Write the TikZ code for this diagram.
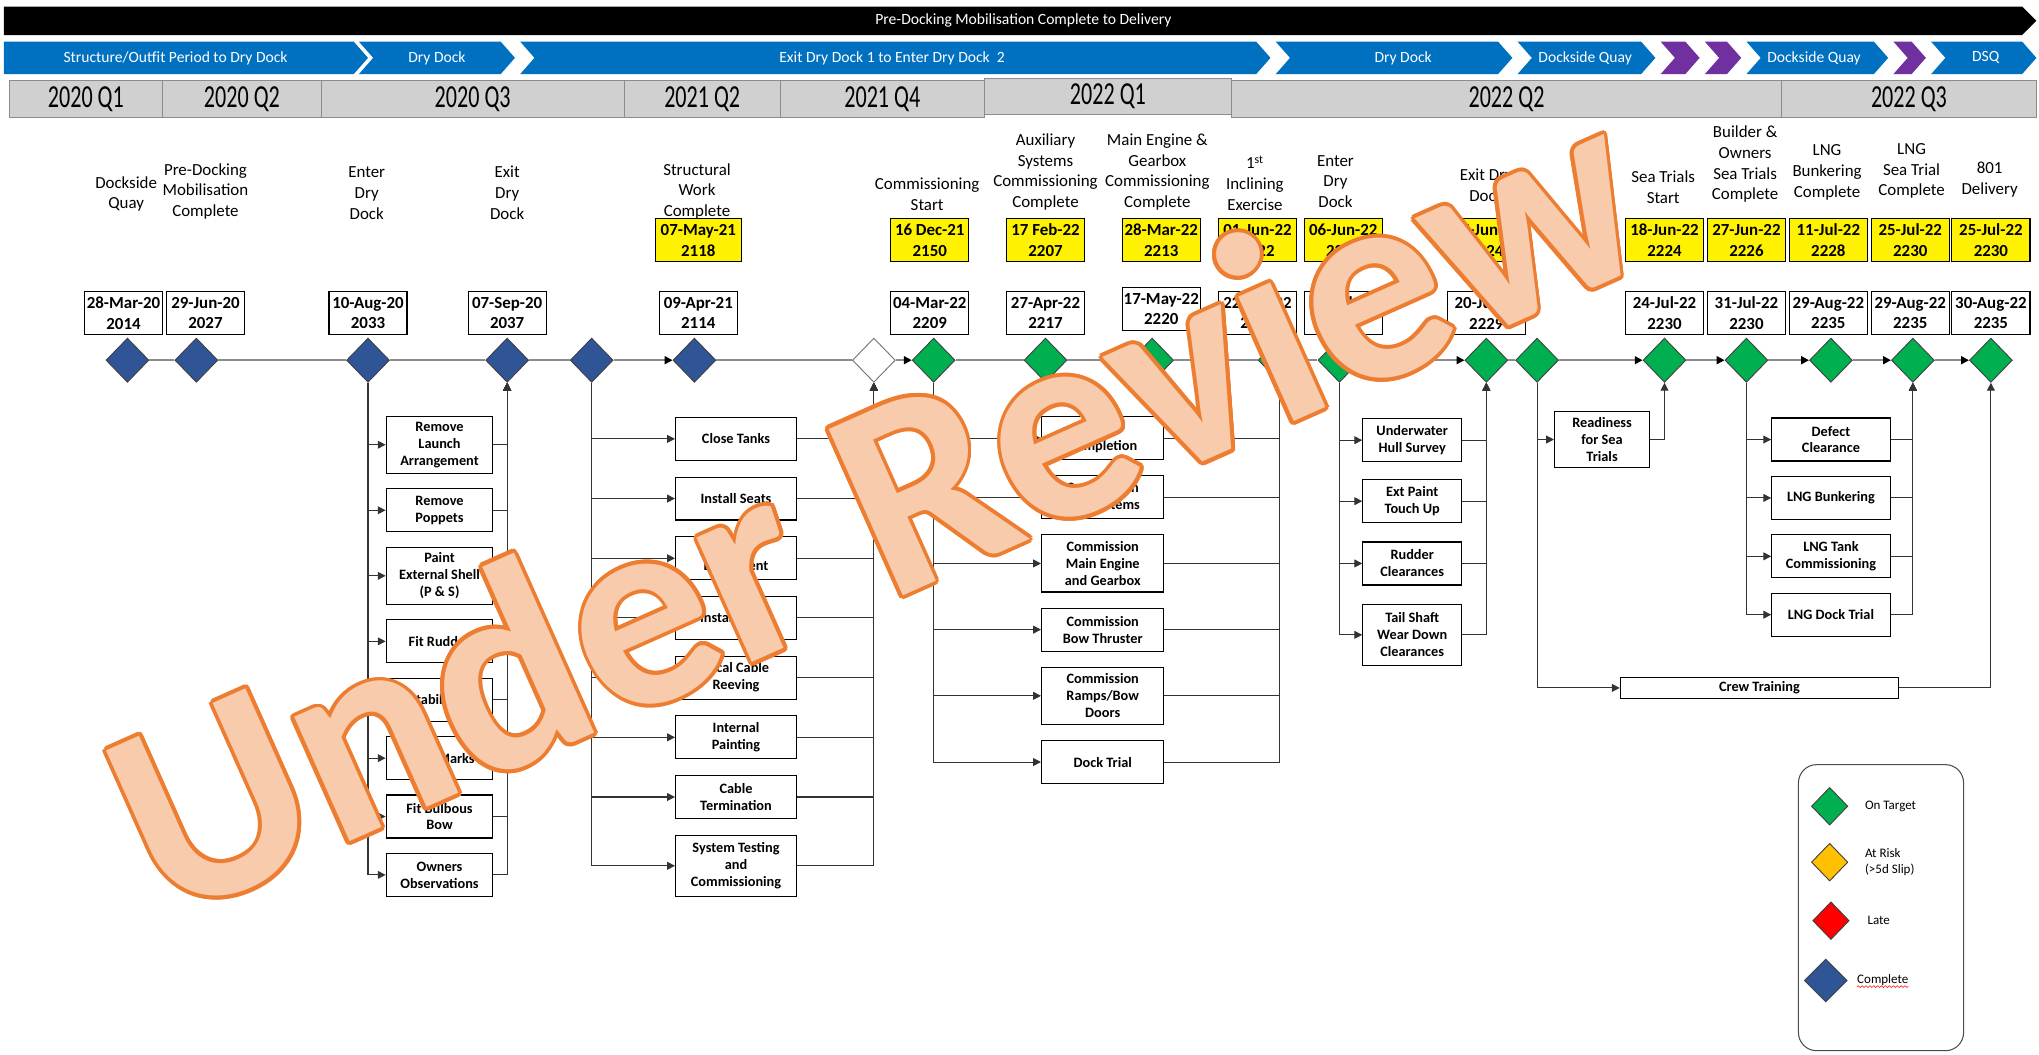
\documentclass[tikz,border=0pt]{standalone}
\usepackage{graphicx}
\usepackage{fontspec}
\setmainfont{Carlito}
\usetikzlibrary{arrows.meta, shapes.geometric, positioning, decorations.pathmorphing}
\definecolor{doneblue}{HTML}{2F5597}
\definecolor{targetgreen}{HTML}{00B050}
\definecolor{riskamber}{HTML}{FFC000}
\definecolor{chevblue}{HTML}{0070C0}
\definecolor{chevpurple}{HTML}{7030A0}
\definecolor{qgray}{HTML}{D0D0D0}
\definecolor{wmfill}{HTML}{F8CBAD}
\definecolor{wmline}{HTML}{ED7D31}
\tikzset{
  milestone/.style={diamond, draw=black!75, line width=0.7pt, minimum width=33pt,
    minimum height=34pt, inner sep=0pt},
  msdone/.style={milestone, fill=doneblue},
  mstarget/.style={milestone, fill=targetgreen},
  msopen/.style={milestone, fill=white, draw=black!55},
  datebox/.style={rectangle, draw=black, line width=0.9pt, fill=white, minimum width=60pt,
    minimum height=33pt, inner sep=1pt, align=center, font=\fontsize{13}{16}\selectfont\bfseries},
  plandate/.style={datebox, fill=yellow},
  mtitle/.style={anchor=south, align=center, inner sep=0pt, font=\fontsize{13}{16}\selectfont},
  task/.style={rectangle, draw=black, line width=0.9pt, fill=white, minimum height=33pt, inner sep=1pt,
    align=center, font=\fontsize{11}{13}\selectfont\bfseries},
  link/.style={draw=black!80, line width=0.8pt, -{Triangle[length=6pt, width=6pt]}},
  tline/.style={draw=black!45, line width=1.4pt},
  tarrow/.style={tline, -{Triangle[length=6pt, width=6pt, color=black]}},
  chev/.style={fill=chevblue},
  chevp/.style={fill=chevpurple},
  chevtext/.style={text=white, inner sep=0pt, font=\fontsize{12}{14}\selectfont},
  quarter/.style={rectangle, fill=qgray, draw=black!45, line width=0.7pt, minimum height=28pt,
    inner sep=0pt, font=\fontsize{17}{20}\selectfont},
  keytext/.style={anchor=west, align=left, inner sep=1pt, font=\fontsize{10}{12}\selectfont},
  wmark/.style={rotate=24, inner sep=0pt, font=\fontsize{216}{216}\selectfont\bfseries}
}

\begin{document}
\begin{tikzpicture}[x=1pt, y=-1pt]
\useasboundingbox (0,0) rectangle (1568,811);

% phase bars
\fill[black] (3,5) -- (1555,5) -- (1566,16) -- (1555,27) -- (3,27) -- cycle;
\node[chevtext] (phaseall) at (787,16) {Pre-Docking Mobilisation Complete to Delivery};

\fill[chev] (3,32) -- (272,32) -- (283,44.5) -- (272,57) -- (3,57) -- cycle;
\fill[chev] (276,32) -- (385,32) -- (396,44.5) -- (385,57) -- (276,57) -- (287,44.5) -- cycle;
\fill[chev] (400,32) -- (966,32) -- (977,44.5) -- (966,57) -- (400,57) -- (411,44.5) -- cycle;
\fill[chev] (981,32) -- (1152,32) -- (1163,44.5) -- (1152,57) -- (981,57) -- (992,44.5) -- cycle;
\fill[chev] (1167,32) -- (1262,32) -- (1273,44.5) -- (1262,57) -- (1167,57) -- (1178,44.5) -- cycle;
\fill[chevp] (1277,32) -- (1296,32) -- (1307,44.5) -- (1296,57) -- (1277,57) -- (1288,44.5) -- cycle;
\fill[chevp] (1311,32) -- (1328,32) -- (1339,44.5) -- (1328,57) -- (1311,57) -- (1322,44.5) -- cycle;
\fill[chev] (1343,32) -- (1441,32) -- (1452,44.5) -- (1441,57) -- (1343,57) -- (1354,44.5) -- cycle;
\fill[chevp] (1456,32) -- (1470,32) -- (1481,44.5) -- (1470,57) -- (1456,57) -- (1467,44.5) -- cycle;
\fill[chev] (1485,32) -- (1555,32) -- (1566,44.5) -- (1555,57) -- (1485,57) -- (1496,44.5) -- cycle;

\node[chevtext] (phfit) at (135,44.5) {Structure/Outfit Period to Dry Dock};
\node[chevtext] (phdock) at (336,44.5) {Dry Dock};
\node[chevtext] (phbetween) at (686,44.5) {Exit Dry Dock 1 to Enter Dry Dock\ \ 2};
\node[chevtext] (phdock2) at (1079,44.5) {Dry Dock};
\node[chevtext] (phquay) at (1219,44.5) {Dockside Quay};
\node[chevtext] (phquay2) at (1395,44.5) {Dockside Quay};
\node[chevtext] (phdsq) at (1527,44.5) {DSQ};

% quarters
\node[quarter, minimum width=118pt] (q20a) at (66,76) {\scalebox{1}[1.45]{2020 Q1}};
\node[quarter, minimum width=122pt] (q20b) at (186,76) {\scalebox{1}[1.45]{2020 Q2}};
\node[quarter, minimum width=233pt] (q20c) at (363.5,76) {\scalebox{1}[1.45]{2020 Q3}};
\node[quarter, minimum width=120pt] (q21b) at (540,76) {\scalebox{1}[1.45]{2021 Q2}};
\node[quarter, minimum width=157pt] (q21d) at (678.5,76) {\scalebox{1}[1.45]{2021 Q4}};
\node[quarter, minimum width=423pt] (q22b) at (1158.5,76) {\scalebox{1}[1.45]{2022 Q2}};
\node[quarter, minimum width=196pt] (q22c) at (1468,76) {\scalebox{1}[1.45]{2022 Q3}};
\node[quarter, minimum width=190pt] (q22a) at (852,74) {\scalebox{1}[1.45]{2022 Q1}};

% milestones
\node[msdone] (mquay) at (98,277) {};
\node[msdone] (mpredock) at (151,277) {};
\node[msdone] (menter) at (283,277) {};
\node[msdone] (mexit) at (390,277) {};
\node[msdone] (mpost) at (455,277) {};
\node[msdone] (mstruct) at (534,277) {};
\node[msopen] (mhold) at (672,277) {};
\node[mstarget] (mcomm) at (718,277) {};
\node[mstarget] (maux) at (804,277) {};
\node[mstarget] (mengine) at (886,277) {};
\node[mstarget] (mincline) at (984,277) {};
\node[mstarget] (menter2) at (1030,277) {};
\node[mstarget] (mexit2) at (1143,277) {};
\node[mstarget] (mafter) at (1182,277) {};
\node[mstarget] (mseastart) at (1280,277) {};
\node[mstarget] (mseadone) at (1343,277) {};
\node[mstarget] (mlngbunk) at (1408,277) {};
\node[mstarget] (mlngsea) at (1471,277) {};
\node[mstarget] (mdeliver) at (1531,277) {};

% forecast dates
\node[datebox, above=2pt of mquay, xshift=-3pt] (fquay) {28-Mar-20\\2014};
\node[datebox, above=2pt of mpredock, xshift=7pt] (fpredock) {29-Jun-20\\2027};
\node[datebox, above=2pt of menter] (fenter) {10-Aug-20\\2033};
\node[datebox, above=2pt of mexit] (fexit) {07-Sep-20\\2037};
\node[datebox, above=2pt of mstruct, xshift=3pt] (fstruct) {09-Apr-21\\2114};
\node[datebox, above=2pt of mcomm, xshift=-3pt] (fcomm) {04-Mar-22\\2209};
\node[datebox, above=2pt of maux] (faux) {27-Apr-22\\2217};
\node[datebox, above=5pt of mengine, xshift=7pt] (fengine) {17-May-22\\2220};
\node[datebox, above=2pt of mincline, xshift=-17pt] (fincline) {22-Jun-22\\2225};
\node[datebox, above=2pt of menter2, xshift=3pt] (fenter2) {01-Jul-22\\2226};
\node[datebox, above=2pt of mexit2] (fexit2) {20-Jul-22\\2229};
\node[datebox, above=2pt of mseastart] (fseastart) {24-Jul-22\\2230};
\node[datebox, above=2pt of mseadone] (fseadone) {31-Jul-22\\2230};
\node[datebox, above=2pt of mlngbunk, xshift=-2pt] (flngbunk) {29-Aug-22\\2235};
\node[datebox, above=2pt of mlngsea, xshift=-2pt] (flngsea) {29-Aug-22\\2235};
\node[datebox, above=2pt of mdeliver] (fdeliver) {30-Aug-22\\2235};

% planned dates
\node[plandate, above=22pt of fstruct, minimum width=66pt] (pstruct) {07-May-21\\2118};
\node[plandate, above=22pt of fcomm] (pcomm) {16 Dec-21\\2150};
\node[plandate, above=22pt of faux] (paux) {17 Feb-22\\2207};
\node[plandate, above=19pt of fengine] (pengine) {28-Mar-22\\2213};
\node[plandate, above=22pt of fincline] (pincline) {01-Jun-22\\2222};
\node[plandate, above=22pt of fenter2] (penter2) {06-Jun-22\\2223};
\node[plandate, above=22pt of fexit2] (pexit2) {17-Jun-22\\2224};
\node[plandate, above=22pt of fseastart] (pseastart) {18-Jun-22\\2224};
\node[plandate, above=22pt of fseadone] (pseadone) {27-Jun-22\\2226};
\node[plandate, above=22pt of flngbunk] (plngbunk) {11-Jul-22\\2228};
\node[plandate, above=22pt of flngsea] (plngsea) {25-Jul-22\\2230};
\node[plandate, above=22pt of fdeliver] (pdeliver) {25-Jul-22\\2230};

% milestone titles
\node[mtitle] (tquay) at (97,163) {Dockside\\Quay};
\node[mtitle] (tpredock) at (158,169) {Pre-Docking\\Mobilisation\\Complete};
\node[mtitle] (tenter) at (282,169) {Enter\\Dry\\Dock};
\node[mtitle] (texit) at (390,169) {Exit\\Dry\\Dock};
\node[mtitle] (tstruct) at (536,169) {Structural\\Work\\Complete};
\node[mtitle] (tcomm) at (713,162) {Commissioning\\Start};
\node[mtitle] (taux) at (804,162) {Auxiliary\\Systems\\Commissioning\\Complete};
\node[mtitle] (tengine) at (890,162) {Main Engine \&\\Gearbox\\Commissioning\\Complete};
\node[mtitle] (tincline) at (965,162) {1\textsuperscript{st}\\Inclining\\Exercise};
\node[mtitle] (tenter2) at (1027,160) {Enter\\Dry\\Dock};
\node[mtitle] (texit2) at (1143,155) {Exit Dry\\Dock};
\node[mtitle] (tseastart) at (1279,157) {Sea Trials\\Start};
\node[mtitle] (tseadone) at (1342,156) {Builder \&\\Owners\\Sea Trials\\Complete};
\node[mtitle] (tlngbunk) at (1405,154) {LNG\\Bunkering\\Complete};
\node[mtitle] (tlngsea) at (1470,153) {LNG\\Sea Trial\\Complete};
\node[mtitle] (tdeliver) at (1530,152) {801\\Delivery};

% timeline
\draw[tline] (mquay) -- (mpredock) -- (menter) -- (mexit) -- (mpost);
\draw[tarrow] (mpost) -- (mstruct);
\draw[tline] (mstruct) -- (mhold);
\draw[tarrow] (mhold) -- (mcomm);
\draw[tline] (mcomm) -- (maux) -- (mengine) -- (mincline) -- (menter2);
\draw[tarrow] (menter2) -- (mexit2);
\draw[tline] (mexit2) -- (mafter);
\draw[tarrow] (mafter) -- (mseastart);
\draw[tarrow] (mseastart) -- (mseadone);
\draw[tarrow] (mseadone) -- (mlngbunk);
\draw[tarrow] (mlngbunk) -- (mlngsea);
\draw[tarrow] (mlngsea) -- (mdeliver);

% dry dock 1 work
\node[task, minimum width=82pt, minimum height=44pt] (launch) at (338,342) {Remove\\Launch\\Arrangement};
\node[task, minimum width=82pt, below=11pt of launch] (poppets) {Remove\\Poppets};
\node[task, minimum width=82pt, minimum height=44pt, below=11pt of poppets] (shell) {Paint\\External Shell\\(P \& S)};
\node[task, minimum width=82pt, below=11pt of shell] (rudder) {Fit Rudder};
\node[task, minimum width=82pt, below=11pt of rudder] (stabs) {Stabilisers};
\node[task, minimum width=82pt, below=11pt of stabs] (draft) {Draft Marks};
\node[task, minimum width=82pt, below=11pt of draft] (bulbous) {Fit Bulbous\\Bow};
\node[task, minimum width=82pt, below=11pt of bulbous] (owners) {Owners\\Observations};
\draw[link] (menter) |- (launch);
\draw[link] (menter) |- (poppets);
\draw[link] (menter) |- (shell);
\draw[link] (menter) |- (rudder);
\draw[link] (menter) |- (stabs);
\draw[link] (menter) |- (draft);
\draw[link] (menter) |- (bulbous);
\draw[link] (menter) |- (owners);
\draw[link] (launch) -| (mexit);
\draw[link] (poppets) -| (mexit);
\draw[link] (shell) -| (mexit);
\draw[link] (rudder) -| (mexit);
\draw[link] (stabs) -| (mexit);
\draw[link] (draft) -| (mexit);
\draw[link] (bulbous) -| (mexit);
\draw[link] (owners) -| (mexit);

% outfit work
\node[task, minimum width=93pt] (tanks) at (566,337.5) {Close Tanks};
\node[task, minimum width=93pt, below=12pt of tanks] (seats) {Install Seats};
\node[task, minimum width=93pt, below=12pt of seats] (equip) {Install\\Equipment};
\node[task, minimum width=93pt, below=12pt of equip] (hvac) {Install HVAC};
\node[task, minimum width=93pt, below=12pt of hvac] (reeving) {Local Cable\\Reeving};
\node[task, minimum width=93pt, below=12pt of reeving] (painting) {Internal\\Painting};
\node[task, minimum width=93pt, below=12pt of painting] (cables) {Cable\\Termination};
\node[task, minimum width=93pt, minimum height=47pt, below=12pt of cables] (systest) {System Testing\\and\\Commissioning};
\draw[link] (mpost) |- (tanks);
\draw[link] (mpost) |- (seats);
\draw[link] (mpost) |- (equip);
\draw[link] (mpost) |- (hvac);
\draw[link] (mpost) |- (reeving);
\draw[link] (mpost) |- (painting);
\draw[link] (mpost) |- (cables);
\draw[link] (mpost) |- (systest);
\draw[link] (tanks) -| (mhold);
\draw[link] (seats) -| (mhold);
\draw[link] (equip) -| (mhold);
\draw[link] (hvac) -| (mhold);
\draw[link] (reeving) -| (mhold);
\draw[link] (painting) -| (mhold);
\draw[link] (cables) -| (mhold);
\draw[link] (systest) -| (mhold);

% commissioning work
\node[task, minimum width=94pt] (outfit) at (848,337) {Outfit\\Completion};
\node[task, minimum width=94pt, below=11.5pt of outfit] (auxsys) {Commission\\Aux Systems};
\node[task, minimum width=94pt, minimum height=44pt, below=11.5pt of auxsys] (mainEng) {Commission\\Main Engine\\and Gearbox};
\node[task, minimum width=94pt, below=11.5pt of mainEng] (bowthr) {Commission\\Bow Thruster};
\node[task, minimum width=94pt, minimum height=44pt, below=11.5pt of bowthr] (ramps) {Commission\\Ramps/Bow\\Doors};
\node[task, minimum width=94pt, below=11.5pt of ramps] (docktrial) {Dock Trial};
\draw[link] (mcomm) |- (outfit);
\draw[link] (mcomm) |- (auxsys);
\draw[link] (mcomm) |- (mainEng);
\draw[link] (mcomm) |- (bowthr);
\draw[link] (mcomm) |- (ramps);
\draw[link] (mcomm) |- (docktrial);
\draw[link] (outfit) -| (mincline);
\draw[link] (auxsys) -| (mincline);
\draw[link] (mainEng) -| (mincline);
\draw[link] (bowthr) -| (mincline);
\draw[link] (ramps) -| (mincline);
\draw[link] (docktrial) -| (mincline);

% dry dock 2 work
\node[task, minimum width=76pt] (hull) at (1086,338.5) {Underwater\\Hull Survey};
\node[task, minimum width=76pt, below=13pt of hull] (touchup) {Ext Paint\\Touch Up};
\node[task, minimum width=76pt, below=14pt of touchup] (rudclr) {Rudder\\Clearances};
\node[task, minimum width=76pt, minimum height=47pt, below=14pt of rudclr] (tailshaft) {Tail Shaft\\Wear Down\\Clearances};
\draw[link] (menter2) |- (hull);
\draw[link] (menter2) |- (touchup);
\draw[link] (menter2) |- (rudclr);
\draw[link] (menter2) |- (tailshaft);
\draw[link] (hull) -| (mexit2);
\draw[link] (touchup) -| (mexit2);
\draw[link] (rudclr) -| (mexit2);
\draw[link] (tailshaft) -| (mexit2);

% sea trials
\node[task, minimum width=73pt, minimum height=43pt] (readiness) at (1232,338) {Readiness\\for Sea\\Trials};
\node[task, minimum width=214pt, minimum height=16pt] (crew) at (1353,529) {Crew Training};
\draw[link] (mafter) |- (readiness);
\draw[link] (readiness) -| (mseastart);
\draw[link] (mafter) |- (crew);
\draw[link] (crew) -| (mdeliver);

% LNG work
\node[task, minimum width=91pt] (defects) at (1408,338) {Defect\\Clearance};
\node[task, minimum width=91pt, below=11pt of defects] (bunker) {LNG Bunkering};
\node[task, minimum width=91pt, below=11pt of bunker] (lngtank) {LNG Tank\\Commissioning};
\node[task, minimum width=91pt, below=11pt of lngtank] (lngdock) {LNG Dock Trial};
\draw[link] (mseadone) |- (defects);
\draw[link] (mseadone) |- (bunker);
\draw[link] (mseadone) |- (lngtank);
\draw[link] (mseadone) |- (lngdock);
\draw[link] (defects) -| (mlngsea);
\draw[link] (bunker) -| (mlngsea);
\draw[link] (lngtank) -| (mlngsea);
\draw[link] (lngdock) -| (mlngsea);

% key
\node[draw=black!70, line width=0.8pt, rounded corners=14pt, minimum width=127pt, minimum height=220pt] (legend) at (1446.5,698) {};
\node[mstarget, minimum width=28pt, minimum height=29pt] (keytarget) at (1407,620) {};
\node[keytext] (ltarget) at (1433,620) {On Target};
\node[milestone, fill=riskamber, minimum width=28pt, minimum height=29pt] (keyrisk) at (1407,663) {};
\node[keytext] (lrisk) at (1433,663) {At Risk\\(>5d Slip)};
\node[milestone, fill=red, minimum width=28pt, minimum height=29pt] (keylate) at (1408,708) {};
\node[keytext] (llate) at (1435,708) {Late};
\node[msdone, minimum width=33pt, minimum height=33pt] (keydone) at (1404,754) {};
\node[keytext] (ldone) at (1427,754) {Complete};
\draw[red, line width=0.4pt, decorate, decoration={snake, amplitude=0.7pt, segment length=3pt}]
  ([shift={(1pt,0.8pt)}]ldone.south west) -- ([shift={(-1pt,0.8pt)}]ldone.south east);

% watermark: orange rim from shifted copies, peach text on top
\foreach \ang in {0,22.5,...,337.5}
  \node[wmark, text=wmline] (wmedge\ang) at ([shift={(\ang:3pt)}]672,386) {Under Review};
\node[wmark, text=wmfill] (wm) at (672,386) {Under Review};
\end{tikzpicture}
\end{document}
